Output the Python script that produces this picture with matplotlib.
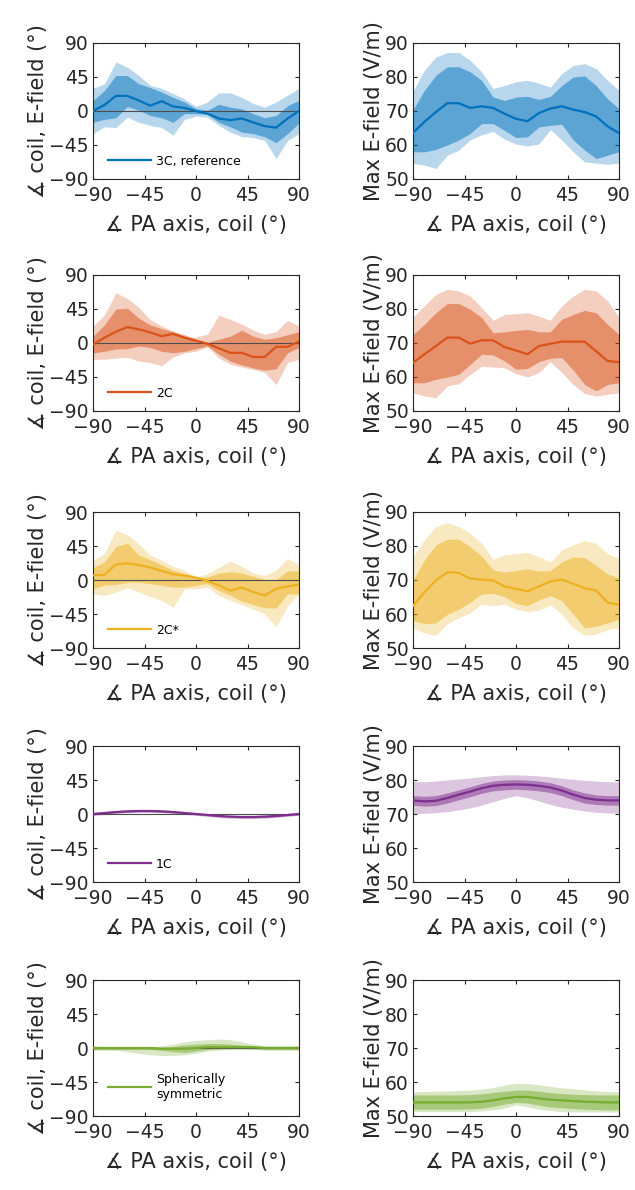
import matplotlib
matplotlib.use("Agg")
import matplotlib.pyplot as plt

plt.rcParams['font.family'] = ['DejaVu Sans']

# coil orientation (PA axis vs coil), degrees
angles = [-90, -80, -70, -60, -50, -40, -30, -20, -10, 0, 10, 20, 30, 40, 50, 60, 70, 80, 90]

# ---- 3C, reference ----
c3_ang_mean = [0, 8, 20, 20, 14, 7, 13, 6, 4, 0, -3.5, -10, -12, -10, -15, -20, -22, -10, 0]
c3_ang_dhi = [14, 27, 47, 47, 36, 31, 25, 18, 12, 3, 1, 9, 5, 3, -3.5, -9, -6, 7, 14]
c3_ang_dlo = [-15, -11, -9, 6, 1, -6, -9, -15, -3.5, -3.5, -4.5, -15, -21, -28, -30, -34, -42, -30, -16]
c3_ang_lhi = [30, 36, 65, 58, 47, 34, 30, 23, 16, 6, 12, 24, 24, 18, 10, 5, 12, 21, 30]
c3_ang_llo = [-30, -21, -22, -8, -15, -19, -22, -32, -11, -7, -8, -19, -28, -34, -35, -39, -63, -39, -30]
c3_e_mean = [63.6, 66.8, 69.7, 72.3, 72.3, 70.9, 71.4, 70.9, 69.2, 67.7, 67.0, 69.4, 70.7, 71.4, 70.4, 69.7, 68.4, 65.5, 63.5]
c3_e_dhi = [70.4, 76.1, 80.5, 83.0, 83.0, 81.5, 79.0, 74.1, 73.1, 74.1, 74.3, 73.4, 74.3, 77.5, 80.0, 80.3, 77.5, 73.6, 70.7]
c3_e_dlo = [58.0, 58.0, 58.7, 60.0, 61.5, 63.4, 66.3, 66.3, 64.3, 62.2, 62.4, 65.3, 65.8, 66.1, 61.5, 58.5, 56.0, 57.0, 58.0]
c3_e_lhi = [75.9, 82.0, 85.9, 87.2, 87.2, 84.9, 81.5, 76.6, 77.5, 78.6, 79.0, 78.2, 77.0, 81.0, 83.4, 83.9, 82.5, 79.0, 76.1]
c3_e_llo = [54.6, 54.1, 53.1, 57.0, 58.5, 61.5, 63.0, 64.0, 61.7, 60.3, 59.7, 60.3, 64.5, 61.5, 58.0, 55.0, 54.7, 54.3, 54.7]

# ---- 2C ----
c2_ang_mean = [-2, 7, 15, 21, 18, 14, 9, 12, 7, 3, -1, -7, -13, -13, -18.5, -18.5, -5, -5, 2]
c2_ang_dhi = [9, 24, 45, 46, 33, 24, 19, 15, 11, 5, 1, 5, 9, 17, 9, 5, 7, 11, 15]
c2_ang_dlo = [-13, -11, -8, -7.5, -4, -6, -11, -13, -11, -7.5, -4, -15, -24, -29, -33, -36, -34, -13, -6]
c2_ang_lhi = [22.5, 37, 66.5, 59, 47, 31, 22.5, 16, 7, 8, 11.5, 37, 31, 25, 17, 11.5, 15, 30, 22.5]
c2_ang_llo = [-21.6, -21.6, -20, -19, -24, -26, -30, -18.5, -13, -11, -5, -20, -28, -32, -35, -39, -55, -26, -21.6]
c2_e_mean = [64.2, 66.7, 69.1, 71.6, 71.6, 69.8, 70.8, 70.8, 68.8, 67.8, 66.7, 69.1, 69.8, 70.4, 70.4, 70.4, 67.6, 64.7, 64.4]
c2_e_dhi = [72.5, 75.5, 78.9, 81.6, 81.6, 79.9, 77.5, 73.0, 73.3, 73.7, 74.0, 73.3, 73.3, 77.0, 78.4, 79.6, 78.9, 75.5, 72.5]
c2_e_dlo = [58.3, 58.3, 59.3, 60.0, 60.8, 63.7, 66.7, 66.5, 64.7, 62.3, 62.5, 64.5, 65.5, 65.7, 62.0, 57.8, 55.9, 57.8, 58.3]
c2_e_lhi = [77.6, 80.9, 84.3, 85.8, 85.3, 83.8, 80.4, 76.7, 78.4, 78.6, 78.9, 77.9, 76.7, 80.9, 83.8, 85.8, 85.3, 82.4, 77.5]
c2_e_llo = [55.4, 54.4, 53.9, 57.4, 58.0, 60.8, 63.2, 62.9, 62.7, 61.0, 60.0, 61.3, 64.5, 61.3, 57.8, 55.1, 54.4, 54.9, 55.4]

# ---- 2C* ----
c2s_ang_mean = [6, 7, 20.5, 22, 20, 16.5, 12, 7.5, 6, 3, -1.3, -7, -14, -10, -16, -20.5, -11.6, -8.5, -6]
c2s_ang_dhi = [16.5, 24, 44, 49, 33, 27, 20, 13, 8.5, 4, 4, 9, 11, 9, 5, 0.5, 0.5, 12, 12]
c2s_ang_dlo = [-11.6, -7, -6, -3, -3, -5, -7, -9.5, -9.5, -7, -5, -14, -20.5, -28, -32.5, -37, -37, -18.5, -18.5]
c2s_ang_lhi = [26, 35, 66, 60, 48, 33, 26, 18, 13, 4, 8.5, 16.5, 25, 18, 9, 6, 13, 28.5, 20]
c2s_ang_llo = [-18.5, -20.5, -16, -10, -16, -22, -27, -36, -11.6, -11.6, -9.5, -20.5, -27, -32.5, -38.5, -45, -62, -34, -18.5]
c2s_e_mean = [62.4, 66.4, 69.9, 72.3, 72.1, 70.4, 70.1, 69.9, 68.1, 67.4, 66.7, 68.1, 69.6, 70.1, 68.9, 67.6, 66.9, 63.4, 62.7]
c2s_e_dhi = [69.9, 75.9, 80.3, 82.0, 82.0, 79.8, 77.0, 73.0, 72.3, 72.8, 73.3, 72.6, 72.8, 75.3, 76.8, 76.6, 74.3, 71.8, 70.6]
c2s_e_dlo = [58.1, 57.1, 57.4, 59.9, 61.4, 63.4, 65.9, 66.1, 65.1, 63.1, 62.4, 64.1, 65.4, 63.9, 59.9, 55.9, 56.4, 57.4, 58.4]
c2s_e_lhi = [76.8, 81.8, 85.7, 86.9, 85.7, 83.7, 80.8, 76.1, 77.4, 77.7, 78.1, 76.9, 75.3, 78.8, 80.3, 81.6, 80.8, 77.8, 76.3]
c2s_e_llo = [55.9, 54.4, 53.7, 57.1, 58.9, 60.4, 62.9, 62.4, 62.9, 61.4, 60.7, 61.1, 62.7, 59.9, 55.9, 53.7, 54.1, 55.4, 55.9]

# ---- 1C ----
c1_ang_mean = [0, 1.3, 2.6, 3.5, 4, 4, 3.5, 2.6, 1.3, 0, -1.3, -2.6, -3.5, -4, -4, -3.5, -2.6, -1.3, 0]
c1_ang_dhi = [1, 2.3, 3.6, 4.5, 5, 5, 4.5, 3.6, 2.3, 1, -0.3, -1.6, -2.5, -3, -3, -2.5, -1.6, -0.3, 1]
c1_ang_dlo = [-1, 0.3, 1.6, 2.5, 3, 3, 2.5, 1.6, 0.3, -1, -2.3, -3.6, -4.5, -5, -5, -4.5, -3.6, -2.3, -1]
c1_ang_lhi = [2, 3.3, 4.6, 5.5, 6, 6, 5.5, 4.6, 3.3, 2, 0.7, -0.6, -1.5, -2, -2, -1.5, -0.6, 0.7, 2]
c1_ang_llo = [-2, -0.7, 0.6, 1.5, 2, 2, 1.5, 0.6, -0.7, -2, -3.3, -4.6, -5.5, -6, -6, -5.5, -4.6, -3.3, -2]
c1_e_mean = [74.0, 73.7, 73.9, 74.7, 75.7, 76.6, 77.6, 78.3, 78.6, 78.7, 78.6, 78.3, 77.8, 76.9, 75.7, 74.7, 74.2, 74.0, 74.0]
c1_e_dhi = [75.4, 75.2, 75.4, 76.2, 77.1, 78.0, 79.0, 79.7, 80.0, 80.1, 80.0, 79.7, 79.2, 78.3, 77.1, 76.2, 75.6, 75.4, 75.4]
c1_e_dlo = [72.6, 72.3, 72.5, 73.2, 74.2, 75.1, 76.1, 76.8, 77.1, 77.3, 77.1, 76.8, 76.3, 75.4, 74.2, 73.2, 72.8, 72.6, 72.6]
c1_e_lhi = [79.5, 79.5, 79.7, 80.0, 80.3, 80.6, 81.0, 81.3, 81.5, 81.5, 81.4, 81.2, 80.9, 80.5, 80.2, 79.9, 79.7, 79.5, 79.5]
c1_e_llo = [70.2, 70.2, 70.4, 70.7, 71.2, 71.8, 72.6, 73.6, 74.6, 75.4, 74.8, 73.8, 72.8, 72.0, 71.4, 70.9, 70.5, 70.3, 70.3]

# ---- spherically symmetric ----
sph_ang_mean = [0, 0, 0, 0, 0, 0, -1, -1, -1, 0, 1, 1, 1, 1, 1, 0, 0, 0, 0]
sph_ang_dhi = [2, 2, 1.5, 1, 1, 1, 1, 2, 4, 5, 6, 6, 5, 4, 3, 2, 2, 2, 2]
sph_ang_dlo = [-2, -2, -2, -2, -2, -2, -3, -5, -6, -4, -2, -1, -1, 0, -1, -2, -2, -2, -2]
sph_ang_lhi = [3, 2, 2, 2, 1, 2, 3, 5, 8, 10, 11, 12, 11, 8, 5, 3, 3, 3, 3]
sph_ang_llo = [-3, -3, -3, -5, -7, -9, -10, -10, -9, -7, -4, -3, -2, -2, -2, -3, -3, -3, -3]
sph_e_mean = [54.0, 54.0, 54.0, 54.0, 54.0, 54.0, 54.2, 54.6, 55.2, 55.6, 55.6, 55.2, 54.8, 54.6, 54.4, 54.2, 54.1, 54.0, 54.0]
sph_e_dhi = [56.2, 56.2, 56.2, 56.2, 56.2, 56.3, 56.5, 56.9, 57.3, 57.6, 57.6, 57.3, 56.9, 56.6, 56.4, 56.3, 56.2, 56.2, 56.2]
sph_e_dlo = [52.0, 52.0, 52.0, 52.0, 52.0, 52.1, 52.3, 52.8, 53.5, 54.0, 53.8, 53.2, 52.7, 52.4, 52.2, 52.0, 51.9, 51.8, 51.8]
sph_e_lhi = [57.2, 57.2, 57.3, 57.4, 57.5, 57.6, 57.9, 58.4, 59.1, 59.6, 59.6, 59.2, 58.7, 58.3, 58.0, 57.7, 57.4, 57.2, 57.2]
sph_e_llo = [51.3, 51.3, 51.3, 51.3, 51.3, 51.3, 51.5, 51.8, 52.3, 53.3, 52.7, 52.0, 51.6, 51.3, 51.2, 51.2, 51.2, 51.2, 51.2]

labels = ['3C, reference', '2C', '2C*', '1C', 'Spherically\nsymmetric']
colors = ['#0072BD', '#D95319', '#EDB120', '#7E2F8E', '#77AC30']
ang_data = [
    (c3_ang_mean, c3_ang_dlo, c3_ang_dhi, c3_ang_llo, c3_ang_lhi),
    (c2_ang_mean, c2_ang_dlo, c2_ang_dhi, c2_ang_llo, c2_ang_lhi),
    (c2s_ang_mean, c2s_ang_dlo, c2s_ang_dhi, c2s_ang_llo, c2s_ang_lhi),
    (c1_ang_mean, c1_ang_dlo, c1_ang_dhi, c1_ang_llo, c1_ang_lhi),
    (sph_ang_mean, sph_ang_dlo, sph_ang_dhi, sph_ang_llo, sph_ang_lhi),
]
e_data = [
    (c3_e_mean, c3_e_dlo, c3_e_dhi, c3_e_llo, c3_e_lhi),
    (c2_e_mean, c2_e_dlo, c2_e_dhi, c2_e_llo, c2_e_lhi),
    (c2s_e_mean, c2s_e_dlo, c2s_e_dhi, c2s_e_llo, c2s_e_lhi),
    (c1_e_mean, c1_e_dlo, c1_e_dhi, c1_e_llo, c1_e_lhi),
    (sph_e_mean, sph_e_dlo, sph_e_dhi, sph_e_llo, sph_e_lhi),
]

W, H = 635, 1190
fig = plt.figure(figsize=(W / 100, H / 100), dpi=100)

row_tops = [43, 275, 512, 746, 980]
ax_h = 136
ax_w = 206
lefts = [93, 413]
axcol = '0.15'


def style(ax, ylim, yticks):
    ax.set_xlim(-90, 90)
    ax.set_ylim(*ylim)
    ax.set_xticks([-90, -45, 0, 45, 90])
    ax.set_xticklabels(['\u221290', '\u221245', '0', '45', '90'])
    ax.set_yticks(yticks)
    ax.set_yticklabels([str(t).replace('-', '\u2212') for t in yticks])
    ax.tick_params(direction='in', top=True, right=True, labelsize=13.5,
                   colors=axcol, length=3, width=0.8)
    ax.tick_params(axis='x', pad=5)
    ax.tick_params(axis='y', pad=3)
    for s in ax.spines.values():
        s.set_color(axcol)
        s.set_linewidth(0.8)
    ax.set_xlabel('\u2221 PA axis, coil (\u00b0)', fontsize=15, color=axcol, labelpad=7)


def bands(ax, d, c):
    mean, dlo, dhi, llo, lhi = d
    ax.fill_between(angles, llo, lhi, color=c, alpha=0.28, lw=0, zorder=1)
    ax.fill_between(angles, dlo, dhi, color=c, alpha=0.5, lw=0, zorder=2)
    line, = ax.plot(angles, mean, color=c, lw=1.6, zorder=4)
    return line


for i in range(5):
    bottom = 1 - (row_tops[i] + ax_h) / H
    axl = fig.add_axes([lefts[0] / W, bottom, ax_w / W, ax_h / H])
    axr = fig.add_axes([lefts[1] / W, bottom, ax_w / W, ax_h / H])

    axl.axhline(0, color='0.3', lw=0.8, zorder=3)
    line = bands(axl, ang_data[i], colors[i])
    style(axl, (-90, 90), [90, 45, 0, -45, -90])
    axl.set_ylabel('\u2221 coil, E-field (\u00b0)', fontsize=15, color=axcol, labelpad=1)
    axl.legend([line], [labels[i]], loc='lower left', frameon=False, fontsize=9,
               handlelength=3.4, handletextpad=0.4,
               bbox_to_anchor=(0.02, 0.0 if i < 4 else 0.03))

    bands(axr, e_data[i], colors[i])
    style(axr, (50, 90), [90, 80, 70, 60, 50])
    axr.set_ylabel('Max E-field (V/m)', fontsize=15, color=axcol, labelpad=1)

fig.savefig('out.png', dpi=100)
